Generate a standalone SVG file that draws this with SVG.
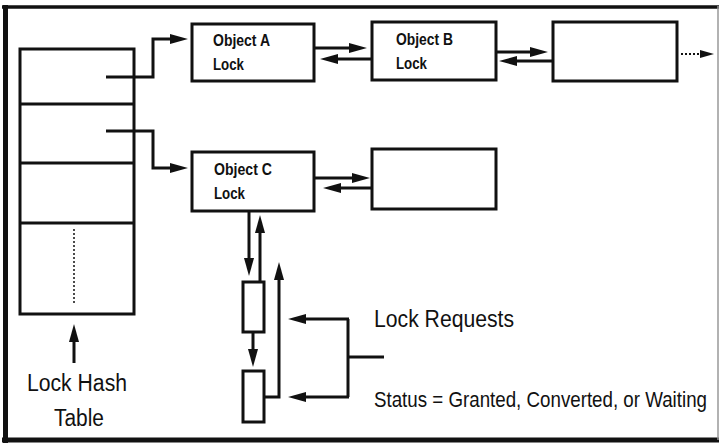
<svg xmlns="http://www.w3.org/2000/svg" width="721" height="445" viewBox="0 0 721 445">
<style>
.box{fill:#fff;stroke:#111;stroke-width:3}
.ln{fill:none;stroke:#111;stroke-width:3}
.lbl{font-family:"Liberation Sans",Arial,sans-serif;font-weight:bold;font-size:16.5px;fill:#111}
.txt{font-family:"Liberation Sans",Arial,sans-serif;fill:#111}
</style>
<defs>
<marker id="ah" markerUnits="userSpaceOnUse" viewBox="0 0 18 10" markerWidth="18" markerHeight="10" refX="6" refY="5" orient="auto">
<path d="M0,0 L18,5 L0,10 z" fill="#111"/>
</marker>
<marker id="ahs" markerUnits="userSpaceOnUse" viewBox="0 0 14 8" markerWidth="14" markerHeight="8" refX="2" refY="4" orient="auto">
<path d="M0,0 L14,4 L0,8 z" fill="#111"/>
</marker>
</defs>
<rect width="721" height="445" fill="#fff"/>
<g id="frame">
<line x1="2" y1="7" x2="719" y2="7" stroke="#111" stroke-width="3.5"/>
<line x1="2" y1="440" x2="719" y2="440" stroke="#111" stroke-width="5"/>
<line x1="5.5" y1="5" x2="5.5" y2="443" stroke="#111" stroke-width="5"/>
<line x1="718" y1="6" x2="718" y2="440" stroke="#999" stroke-width="1.5"/>
</g>
<g id="hash-table">
<rect class="box" x="20" y="49" width="114" height="265"/>
<line class="ln" x1="20" y1="104" x2="134" y2="104"/>
<line class="ln" x1="20" y1="163" x2="134" y2="163"/>
<line class="ln" x1="20" y1="223" x2="134" y2="223"/>
<line x1="74" y1="229" x2="74" y2="305" stroke="#111" stroke-width="1.5" stroke-dasharray="2 2"/>
<text class="txt" x="27" y="391" font-size="23" textLength="100" lengthAdjust="spacingAndGlyphs">Lock Hash</text>
<text class="txt" x="54" y="426" font-size="23" textLength="50" lengthAdjust="spacingAndGlyphs">Table</text>
</g>
<g id="object-a">
<rect class="box" x="192" y="24" width="122" height="57"/>
<text class="lbl" x="213" y="46" textLength="57" lengthAdjust="spacingAndGlyphs">Object A</text>
<text class="lbl" x="213" y="70" textLength="31" lengthAdjust="spacingAndGlyphs">Lock</text>
</g>
<g id="object-b">
<rect class="box" x="372" y="22" width="124" height="58"/>
<text class="lbl" x="396" y="45" textLength="57" lengthAdjust="spacingAndGlyphs">Object B</text>
<text class="lbl" x="396" y="69" textLength="31" lengthAdjust="spacingAndGlyphs">Lock</text>
</g>
<g id="object-next">
<rect class="box" x="553" y="22" width="124" height="59"/>
</g>
<g id="object-c">
<rect class="box" x="192" y="152" width="122" height="59"/>
<text class="lbl" x="214" y="175" textLength="58" lengthAdjust="spacingAndGlyphs">Object C</text>
<text class="lbl" x="214" y="199" textLength="31" lengthAdjust="spacingAndGlyphs">Lock</text>
</g>
<g id="object-d">
<rect class="box" x="372" y="149" width="124" height="60"/>
</g>
<g id="request-1">
<rect class="box" x="243" y="282" width="21" height="50"/>
</g>
<g id="request-2">
<rect class="box" x="243" y="371" width="21" height="51"/>
</g>
<g id="labels">
<text class="txt" transform="translate(374,327) scale(0.865,1)" x="0" y="0" font-size="24.5">Lock Requests</text>
<text class="txt" transform="translate(374,407) scale(0.852,1)" x="0" y="0" font-size="22">Status = Granted, Converted, or Waiting</text>
</g>
<g id="connectors">
<path class="ln" d="M106,77 H153 V39 H176" marker-end="url(#ah)"/>
<path class="ln" d="M106,131 H153 V168 H176" marker-end="url(#ah)"/>
<path class="ln" d="M314,48 H355" marker-end="url(#ah)"/>
<path class="ln" d="M372,59 H332" marker-end="url(#ah)"/>
<path class="ln" d="M496,52 H536" marker-end="url(#ah)"/>
<path class="ln" d="M553,61 H511" marker-end="url(#ah)"/>
<path d="M681,54 H702" fill="none" stroke="#111" stroke-width="2" stroke-dasharray="2 2" marker-end="url(#ahs)"/>
<path class="ln" d="M314,178 H358" marker-end="url(#ah)"/>
<path class="ln" d="M372,188 H335" marker-end="url(#ah)"/>
<path class="ln" d="M249,211 V264" marker-end="url(#ah)"/>
<path class="ln" d="M260,282 V227" marker-end="url(#ah)"/>
<path class="ln" d="M253,332 V355" marker-end="url(#ah)"/>
<path class="ln" d="M264,397 H279 V274" marker-end="url(#ah)"/>
<path class="ln" d="M384,357 H348"/>
<path class="ln" d="M348,319 V397"/>
<path class="ln" d="M349,319 H300" marker-end="url(#ah)"/>
<path class="ln" d="M349,397 H300" marker-end="url(#ah)"/>
<path class="ln" d="M74,363 V336" marker-end="url(#ah)"/>
</g>
</svg>
